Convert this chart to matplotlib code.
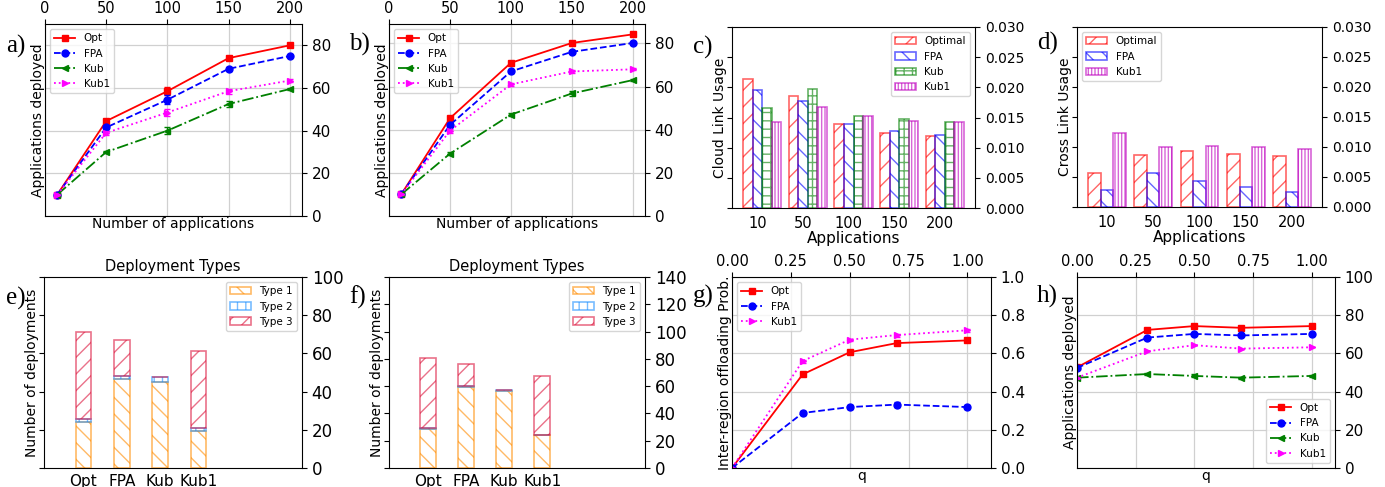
import matplotlib
matplotlib.use('Agg')
import matplotlib.pyplot as plt
import numpy as np

W, H = 1385, 487

# ---- data ----
apps = [10, 50, 100, 150, 200]
app_labels = ['10', '50', '100', '150', '200']

# a) applications deployed
a_opt = [10, 44.5, 58.5, 74, 80]
a_fpa = [10, 41.5, 54.5, 69, 75]
a_kub = [10, 30, 40, 52.5, 59.5]
a_kub1 = [10, 39, 48.5, 58.5, 63.5]
a_opt_err = [0.3, 0.8, 2.0, 1.0, 0.5]
a_fpa_err = [0.3, 0.8, 2.0, 1.0, 0.5]
a_kub_err = [0.3, 0.5, 1.5, 1.2, 0.5]
a_kub1_err = [0.3, 0.8, 1.5, 1.2, 0.5]

# b) applications deployed
b_opt = [10, 45.3, 71, 80.2, 84.2]
b_fpa = [10, 42.2, 67, 76.1, 80.2]
b_kub = [10, 28.9, 47, 56.8, 63]
b_kub1 = [10, 39.5, 61, 67, 68]
b_opt_err = [0.3, 0.8, 0.8, 0.5, 0.5]
b_fpa_err = [0.3, 0.8, 0.8, 0.5, 0.5]
b_kub_err = [0.3, 0.6, 0.8, 1.2, 0.5]
b_kub1_err = [0.3, 0.8, 0.8, 0.5, 0.5]

# c) cloud link usage
c_opt = [0.0214, 0.0186, 0.0140, 0.0124, 0.0119]
c_fpa = [0.0196, 0.0177, 0.0139, 0.0127, 0.01205]
c_kub = [0.0166, 0.0198, 0.0152, 0.0147, 0.0143]
c_kub1 = [0.0142, 0.0168, 0.0152, 0.0144, 0.0143]

# d) cross link usage
d_opt = [0.0057, 0.0087, 0.0094, 0.0089, 0.00855]
d_fpa = [0.0029, 0.0056, 0.0044, 0.0034, 0.00255]
d_kub1 = [0.0123, 0.01005, 0.0102, 0.01005, 0.0096]

# e) / f) deployment types
algos = ['Opt', 'FPA', 'Kub', 'Kub1']
e_type1 = [24, 46.5, 45, 19.3]
e_type2 = [1.5, 1.5, 2.5, 1.9]
e_type3 = [45.5, 19, 0.3, 40]
f_type1 = [28.5, 59.5, 56.3, 24]
f_type2 = [0.6, 0.7, 0.6, 0.5]
f_type3 = [51.3, 15.8, 0.5, 42.7]

# g) inter-region offloading probability
q = [0, 0.3, 0.5, 0.7, 1.0]
g_opt = [0, 0.49, 0.606, 0.654, 0.668]
g_fpa = [0, 0.288, 0.319, 0.332, 0.319]
g_kub1 = [0, 0.56, 0.672, 0.696, 0.721]
g_opt_err = [0, 0.005, 0.005, 0.008, 0.005]
g_fpa_err = [0, 0.01, 0.012, 0.012, 0.01]
g_kub1_err = [0, 0.008, 0.005, 0.008, 0.008]

# h) applications deployed vs q
h_opt = [52.7, 72.3, 74.3, 73.4, 74.3]
h_fpa = [52.4, 68.3, 70.2, 69.4, 70.2]
h_kub = [47.3, 49.2, 48.2, 47.3, 48.2]
h_kub1 = [47.3, 61.1, 64.3, 62.5, 63.2]
h_kub_err = [0.3, 0.5, 0.8, 0.6, 0.5]

fig = plt.figure(figsize=(W / 100, H / 100), dpi=100)


def rect(l, r, t, b):
    return [l / W, (H - b) / H, (r - l) / W, (b - t) / H]


def letter(x, y, s):
    fig.text(x / W, 1 - y / H, s, family='Liberation Serif', fontsize=18,
             ha='left', va='center')


styles = {
    'Opt': dict(color='red', marker='s', ls='-'),
    'FPA': dict(color='blue', marker='o', ls='--'),
    'Kub': dict(color='green', marker='<', ls='-.'),
    'Kub1': dict(color='magenta', marker='>', ls=':'),
}


def line_panel(ax, x, series, xlabel, ylabel, legend_loc):
    for name, ys, err in series:
        st = styles[name]
        ax.plot(x, ys, label=name, ms=5, lw=1.3, **st)
        ax.errorbar(x, ys, yerr=err, fmt='none', ecolor=st['color'],
                    capsize=2, elinewidth=1)
    ax.grid(True, color='#d0d0d0', lw=0.9)
    ax.xaxis.tick_top()
    ax.xaxis.set_label_position('bottom')
    ax.tick_params(axis='x', labelsize=10.5, pad=2)
    ax.tick_params(axis='y', left=False, right=True, labelleft=False,
                   labelright=True, labelsize=11)
    ax.set_xlabel(xlabel, fontsize=10, labelpad=1)
    ax.set_ylabel(ylabel, fontsize=10, labelpad=0)
    ax.legend(loc=legend_loc, fontsize=7.5)


# a)
ax = fig.add_axes(rect(45, 302, 24, 216))
line_panel(ax, apps, [('Opt', a_opt, a_opt_err), ('FPA', a_fpa, a_fpa_err),
                      ('Kub', a_kub, a_kub_err), ('Kub1', a_kub1, a_kub1_err)],
           'Number of applications', 'Applications deployed', 'upper left')
ax.set_xlim(0, 210)
ax.set_ylim(0, 90)
letter(6, 46, 'a)')

# b)
ax = fig.add_axes(rect(389, 645, 24, 216))
line_panel(ax, apps, [('Opt', b_opt, b_opt_err), ('FPA', b_fpa, b_fpa_err),
                      ('Kub', b_kub, b_kub_err), ('Kub1', b_kub1, b_kub1_err)],
           'Number of applications', 'Applications deployed', 'upper left')
ax.set_xlim(0, 210)
ax.set_ylim(0, 89)
letter(349, 44, 'b)')


def bar_panel(ax, groups, width, ylabel, legend_loc):
    idx = np.arange(len(app_labels))
    for k, (name, vals, color, hatch) in enumerate(groups):
        ax.bar(idx + (k - 1) * width, vals, width, label=name, fill=False,
               edgecolor=color, hatch=hatch, alpha=0.6, lw=1.2)
    ax.set_xticks(idx)
    ax.set_xticklabels(app_labels)
    ax.tick_params(axis='x', bottom=False, labelsize=10.5, pad=2)
    ax.tick_params(axis='y', left=True, right=True, labelleft=False,
                   labelright=True, labelsize=10)
    ax.set_ylim(0, 0.030)
    ax.set_yticks(np.arange(0, 0.0301, 0.005))
    ax.yaxis.set_major_formatter(matplotlib.ticker.FormatStrFormatter('%.3f'))
    ax.set_xlabel('Applications', fontsize=11, labelpad=0)
    ax.set_ylabel(ylabel, fontsize=10, labelpad=0)
    ax.legend(loc=legend_loc, fontsize=7.5)


# c)
ax = fig.add_axes(rect(732, 975, 27, 208))
bar_panel(ax, [('Optimal', c_opt, 'red', '//'), ('FPA', c_fpa, 'blue', '\\\\'),
               ('Kub', c_kub, 'green', '++'), ('Kub1', c_kub1, 'm', '|||||')],
          0.21, 'Cloud Link Usage', 'upper right')
letter(693, 47, 'c)')

# d)
ax = fig.add_axes(rect(1077, 1322, 27, 207))
bar_panel(ax, [('Optimal', d_opt, 'red', '//'), ('FPA', d_fpa, 'blue', '\\\\'),
               ('Kub1', d_kub1, 'm', '|||||')],
          0.27, 'Cross Link Usage', 'upper left')
letter(1037, 43, 'd)')


def stack_panel(ax, t1, t2, t3, ymax):
    idx = np.arange(len(algos))
    t1 = np.array(t1)
    t2 = np.array(t2)
    t3 = np.array(t3)
    w = 0.41
    ax.bar(idx, t1, w, label='Type 1', fill=False, edgecolor='darkorange',
           hatch='\\\\', alpha=0.6, lw=1.2)
    ax.bar(idx, t2, w, bottom=t1, label='Type 2', fill=False,
           edgecolor='dodgerblue', hatch='||', alpha=0.6, lw=1.2)
    ax.bar(idx, t3, w, bottom=t1 + t2, label='Type 3', fill=False,
           edgecolor='crimson', hatch='//', alpha=0.6, lw=1.2)
    ax.set_xticks(idx)
    ax.set_xticklabels(algos)
    ax.set_xlim(-1.03, 5.7)
    ax.set_ylim(0, ymax)
    ax.set_yticks(np.arange(0, ymax + 1, 20))
    ax.tick_params(axis='x', bottom=False, labelsize=11, pad=1)
    ax.tick_params(axis='y', left=True, right=True, labelleft=False,
                   labelright=True, labelsize=12)
    ax.set_ylabel('Number of deployments', fontsize=10, labelpad=0)
    ax.set_title('Deployment Types', fontsize=10.5, pad=4)
    ax.legend(loc='upper right', fontsize=7.5)


# e)
ax = fig.add_axes(rect(44, 302, 277, 468))
stack_panel(ax, e_type1, e_type2, e_type3, 100)
letter(6, 298, 'e)')

# f)
ax = fig.add_axes(rect(389, 645, 277, 468))
stack_panel(ax, f_type1, f_type2, f_type3, 140)
letter(349, 297, 'f)')

# g)
ax = fig.add_axes(rect(732, 991, 277, 468))
line_panel(ax, q, [('Opt', g_opt, g_opt_err), ('FPA', g_fpa, g_fpa_err),
                   ('Kub1', g_kub1, g_kub1_err)],
           'q', 'Inter-region offloading Prob.', 'upper left')
ax.set_xlim(0, 1.1)
ax.set_xticks([0, 0.25, 0.5, 0.75, 1.0])
ax.set_ylim(0, 1.0)
letter(693, 296, 'g)')

# h)
ax = fig.add_axes(rect(1077, 1335, 277, 468))
z = [0] * 5
line_panel(ax, q, [('Opt', h_opt, z), ('FPA', h_fpa, z),
                   ('Kub', h_kub, h_kub_err), ('Kub1', h_kub1, z)],
           'q', 'Applications deployed', 'lower right')
ax.set_xlim(0, 1.1)
ax.set_xticks([0, 0.25, 0.5, 0.75, 1.0])
ax.set_ylim(0, 100)
letter(1037, 296, 'h)')

fig.savefig('out.png', dpi=100)
